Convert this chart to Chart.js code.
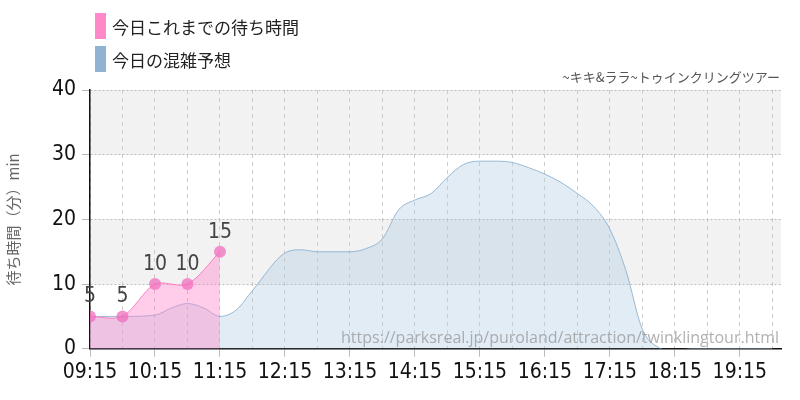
<!DOCTYPE html>
<html><head><meta charset="utf-8">
<script src="https://cdn.jsdelivr.net/npm/chart.js@4"></script>
<style>
body{margin:0;background:#fff;font-family:"Noto Sans CJK JP",sans-serif;}
#wrap{position:relative;width:800px;height:400px;}
.lg{position:absolute;left:95px;font-size:17px;color:#222;display:flex;align-items:center;}
.lg span{display:inline-block;width:11px;height:26px;margin-right:6px;}
#sub{position:absolute;right:20px;top:67px;font-size:13px;color:#555;}
</style></head><body>
<div id="wrap">
<canvas id="c" width="800" height="400"></canvas>
<div class="lg" style="top:13px"><span style="background:#ff88c8"></span>今日これまでの待ち時間</div>
<div class="lg" style="top:46px"><span style="background:#8fb3d1"></span>今日の混雑予想</div>
<div id="sub">~キキ&amp;ララ~トゥインクリングツアー</div>
</div>
<script>
const tickLabels=["09:15","10:15","11:15","12:15","13:15","14:15","15:15","16:15","17:15","18:15","19:15"];
const actualTimes=[0,30,60,90,120];
const actualValues=[5,5,10,10,15];
const forecastTimes=[0,30,60,75,90,105,120,135,150,180,195,210,240,255,270,285,300,315,330,345,360,375,390,405,420,435,450,465,480,495,510,525,540,555,570,600,630];
const forecastValues=[5,5,5.2,6.3,7,6.3,5,6,9,14.8,15.3,15,15,15.5,17,21.5,23,24,26.5,28.5,29,29,28.8,28,27,25.7,24,22,18.5,12,3,0.2,-0.4,0,0,0,0];
const xMax=638;
const FONT='"Liberation Sans Narrow","DejaVu Sans Condensed","Roboto",sans-serif';
const bands={id:'bands',beforeDraw(ch){const {ctx,chartArea:a,scales:{y}}=ch;ctx.save();ctx.fillStyle='#f2f2f2';
[[10,20],[30,40]].forEach(([l,h])=>{ctx.fillRect(a.left,y.getPixelForValue(h),a.right-a.left,y.getPixelForValue(l)-y.getPixelForValue(h));});ctx.restore();},
afterDatasetsDraw(ch){const {ctx,chartArea:a}=ch;ctx.save();ctx.font='16px "Open Sans"';ctx.fillStyle='rgba(150,150,150,0.75)';ctx.textAlign='right';ctx.fillText('https://parksreal.jp/puroland/attraction/twinklingtour.html',a.right-2,a.bottom-6);
const m=ch.getDatasetMeta(0);ctx.font='21px '+FONT;ctx.fillStyle='#444';ctx.textAlign='center';
m.data.forEach((p,i)=>ctx.fillText(actualValues[i],p.x,p.y-14));ctx.restore();}};
new Chart(document.getElementById('c'),{type:'line',
data:{datasets:[
{data:actualTimes.map((t,i)=>({x:t,y:actualValues[i]})),borderColor:'#ff7cc0',borderWidth:1,backgroundColor:'rgba(255,130,200,0.4)',fill:'origin',pointRadius:6,pointBackgroundColor:'rgba(240,110,190,0.75)',pointBorderWidth:0,tension:0.3},
{data:forecastTimes.map((t,i)=>({x:t,y:forecastValues[i]})),borderColor:'rgba(143,179,209,0.9)',borderWidth:1,backgroundColor:'rgba(170,200,225,0.35)',fill:'origin',pointRadius:0,tension:0.4,cubicInterpolationMode:'monotone'}]},
options:{responsive:false,animation:false,layout:{padding:{top:90,right:19,left:0,bottom:12}},
plugins:{legend:{display:false},tooltip:{enabled:false}},
scales:{
x:{type:'linear',min:0,max:xMax,afterBuildTicks(s){const t=[];for(let v=0;v<=xMax;v+=30)t.push({value:v});s.ticks=t;},
ticks:{autoSkip:false,maxRotation:0,color:'#111',font:{family:FONT,size:21},callback:v=>v%60===0?tickLabels[v/60]:''},
grid:{color:'#ccc',tickLength:8,tickColor:c=>c.tick&&c.tick.value%60===0?'#bbb':'rgba(0,0,0,0)'},border:{color:'#111',width:1.5,dash:[4,4]}},
y:{min:0,max:40,afterFit(s){s.width=90;},ticks:{stepSize:10,color:'#111',padding:6,font:{family:FONT,size:21}},
grid:{color:'#bbb',tickLength:8},border:{color:'#111',width:1.5,dash:[2,2]},
title:{display:true,text:'待ち時間（分）min',color:'#666',font:{size:15,family:'"Noto Sans CJK JP"'}}}}},
plugins:[bands]});
</script>
</body></html>
